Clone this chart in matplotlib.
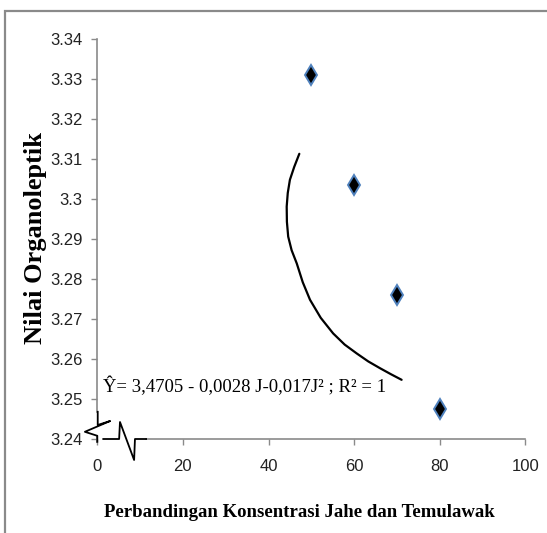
import numpy as np
import matplotlib
matplotlib.use('Agg')
import matplotlib.pyplot as plt
from matplotlib.patches import Rectangle

# data
konsentrasi = [50, 60, 70, 80]
nilai = [3.331, 3.3035, 3.276, 3.2475]

# hand-drawn curve (as it appears in the picture)
curve_x = [47.2, 46.0, 45.0, 44.5, 44.25, 44.3, 44.6, 45.4, 46.6, 48.0, 49.7,
           52.2, 55.1, 57.8, 60.6, 63.3, 66.05, 68.6, 71.1]
curve_y = [3.3113, 3.3080, 3.3048, 3.3015, 3.2981, 3.2943, 3.2906, 3.2872, 3.2839,
           3.2792, 3.2748, 3.2703, 3.2664, 3.2636, 3.2614, 3.2594, 3.2577, 3.2562, 3.2548]

xticks = [0, 20, 40, 60, 80, 100]
yticks = [3.24, 3.25, 3.26, 3.27, 3.28, 3.29, 3.30, 3.31, 3.32, 3.33, 3.34]
ytick_labels = ['3.24', '3.25', '3.26', '3.27', '3.28', '3.29', '3.3', '3.31', '3.32', '3.33', '3.34']

# axis break symbols
ybreak_x = [0.1, 0.1, 3.0, -2.9, 0.0, 0.0]
ybreak_y = [3.2468, 3.2435, 3.2445, 3.2418, 3.2408, 3.2393]
xbreak_x = [1.4, 5.1, 5.3, 8.6, 8.8, 11.4]
xbreak_y = [3.24, 3.24, 3.24425, 3.23475, 3.24, 3.24]

persamaan = 'Ŷ= 3,4705 - 0,0028 J-0,017J² ; R² = 1'

grey = '#8a8a8a'
tick_font = ['Liberation Sans', 'DejaVu Sans']
serif = ['Liberation Serif', 'DejaVu Serif']

W, H = 547, 533
fig = plt.figure(figsize=(W / 100, H / 100), dpi=100)
ax = fig.add_axes([97.3 / W, 1 - 439 / H, (525.3 - 97.3) / W, (439 - 39) / H])
ax.set_xlim(0, 100)
ax.set_ylim(3.24, 3.34)

for s in ax.spines.values():
    s.set_visible(False)

# axis lines drawn by hand because of the breaks
ax.plot([0, 0], [3.2468, 3.34], color=grey, lw=1.2, clip_on=False)
ax.plot([0, 0], [3.2393, 3.2408], color=grey, lw=1.2, clip_on=False)
ax.plot([11.4, 100], [3.24, 3.24], color=grey, lw=1.2, clip_on=False)
ax.plot(ybreak_x, ybreak_y, color='black', lw=1.3, clip_on=False)
ax.plot(xbreak_x, xbreak_y, color='black', lw=1.3, clip_on=False)

ax.set_xticks(xticks)
ax.set_yticks(yticks)
ax.set_yticklabels(ytick_labels)
ax.tick_params(axis='y', direction='out', length=4.5, width=1, color=grey, pad=6)
ax.tick_params(axis='x', direction='out', length=4.5, width=1, color=grey, pad=10)
for lab in ax.get_xticklabels() + ax.get_yticklabels():
    lab.set_family(tick_font)
    lab.set_fontsize(12)
    lab.set_color('#222222')

ax.plot(curve_x, curve_y, color='black', lw=1.6, clip_on=False,
        solid_joinstyle='round', solid_capstyle='round')
ax.plot(konsentrasi, nilai, linestyle='none', marker='d', markersize=10,
        markerfacecolor='black', markeredgecolor='#4f81bd', markeredgewidth=1.4)

ax.text(1.3, 3.2518, persamaan, family=serif, fontsize=13.5, ha='left', va='baseline')

fig.text(299 / W, 1 - 516.7 / H, 'Perbandingan Konsentrasi Jahe dan Temulawak',
         family=serif, fontweight='bold', fontsize=13.5, ha='center', va='baseline')
fig.text(36 / W, 1 - 237.5 / H, 'Nilai Organoleptik', family=serif, fontweight='bold',
         fontsize=19, rotation=90, ha='center', va='center')

fig.add_artist(Rectangle((5 / W, -0.5), 2, 1.5 - 10.5 / H, transform=fig.transFigure,
                         fill=False, edgecolor=grey, lw=1.6))

fig.savefig('out.png', dpi=100)
